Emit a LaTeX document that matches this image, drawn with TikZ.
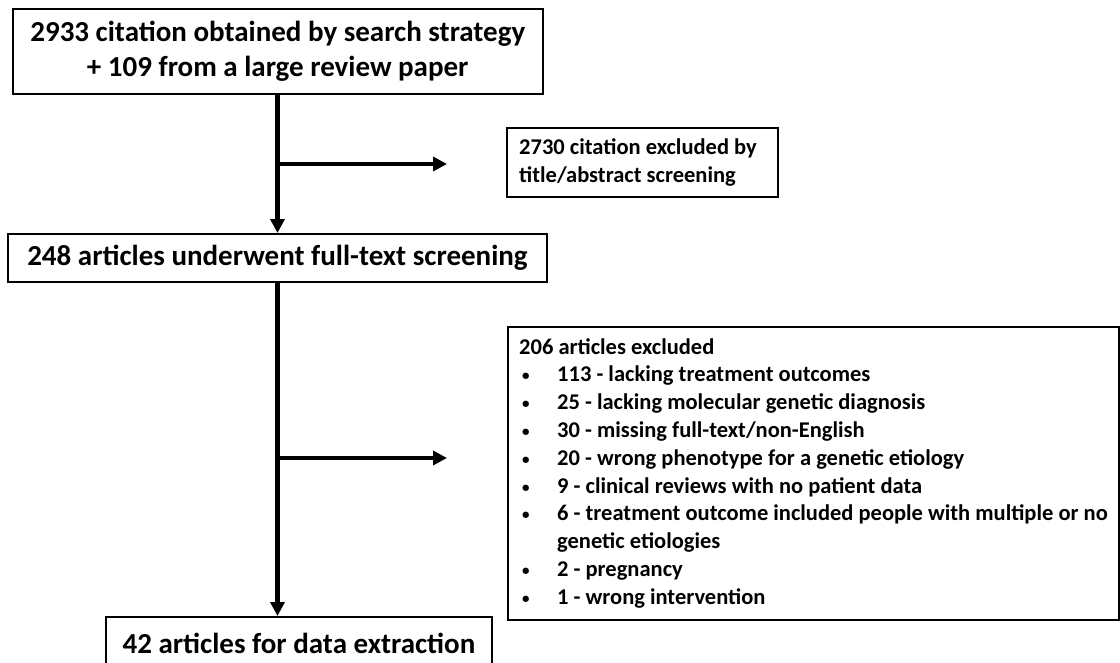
\documentclass[tikz,border=0pt]{standalone}
\usepackage{fontspec}
\setmainfont{Carlito}
\usetikzlibrary{arrows.meta}
\tikzset{
  box/.style={draw=black, line width=2pt, rectangle, inner sep=0pt},
  bigtext/.style={font=\bfseries\fontsize{29}{35}\selectfont},
  smalltext/.style={font=\bfseries\fontsize{22.5}{27.8}\selectfont},
  flow/.style={line width=4.5pt, -{Triangle[length=14pt,width=14pt]}},
}
\newcommand{\bul}{\makebox[38pt][l]{\hspace*{3pt}{\fontsize{15}{15}\selectfont\raisebox{1pt}{\textbullet}}}}
\begin{document}
\begin{tikzpicture}[x=1pt,y=-1pt]
\useasboundingbox (0,0) rectangle (1120,662);
\clip (0,0) rectangle (1120,662);
% boxes
\node[box, bigtext, minimum width=530pt, minimum height=85pt, align=center] (b1) at (277.75,51.5)
  {2933 citation obtained by search strategy\\+ 109 from a large review paper};
\node[box, minimum width=271pt, minimum height=69pt, anchor=north west] (b2) at (506,127) {};
\node[smalltext, align=left, anchor=west, inner sep=0pt] (b2t) at ([xshift=13pt]b2.west)
  {2730 citation excluded by\\title/abstract screening};
\node[box, bigtext, minimum width=539pt, minimum height=48pt] (b3) at (277.5,258)
  {248 articles underwent full-text screening};
\node[box, bigtext, minimum width=386pt, minimum height=52pt, anchor=north west] (b4) at (105,616)
  {42 articles for data extraction};
\node[box, minimum width=611pt, minimum height=293pt, anchor=north west] (b5) at (507,326) {};
\node[smalltext, anchor=north west, align=left, inner sep=0pt] (b5t) at (519,338)
  {206 articles excluded\\
   \bul113 - lacking treatment outcomes\\
   \bul25 - lacking molecular genetic diagnosis\\
   \bul30 - missing full-text/non-English\\
   \bul20 - wrong phenotype for a genetic etiology\\
   \bul9 - clinical reviews with no patient data\\
   \bul6 - treatment outcome included people with multiple or no\\
   \hspace*{38pt}genetic etiologies\\
   \bul2 - pregnancy\\
   \bul1 - wrong intervention};
% connectors
\coordinate (j1) at (277.5,164);
\coordinate (e1) at (447,164);
\coordinate (j2) at (277.5,458);
\coordinate (e2) at (447,458);
\draw[flow] (b1.south -| j1) -- (b3.north -| j1);
\draw[flow] (j1) -- (e1);
\draw[flow] (b3.south -| j1) -- (b4.north -| j1);
\draw[flow] (j2) -- (e2);
\end{tikzpicture}
\end{document}
